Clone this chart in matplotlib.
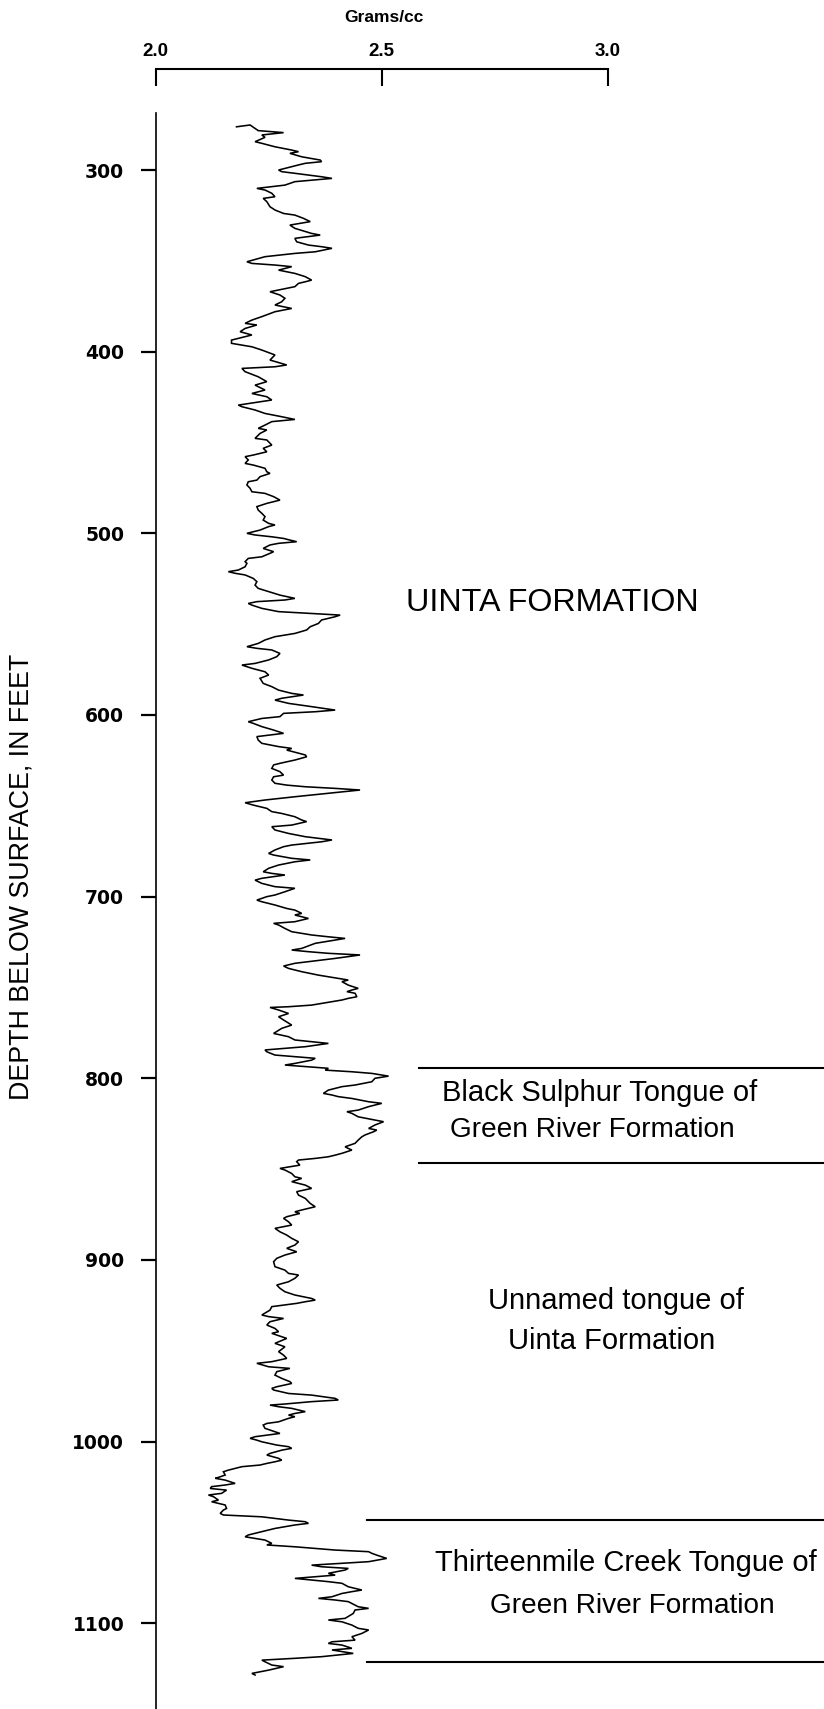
import matplotlib
matplotlib.use('Agg')
import matplotlib.pyplot as plt

plt.rcParams['font.family'] = ['Liberation Sans', 'DejaVu Sans']

# ---- density log (depth in feet, bulk density in g/cc) ----
depth_ft = [
    276.2, 275.2, 278.3, 279.4, 280.7, 282.0, 284.4, 285.3, 287.2, 289.0, 289.9, 290.8, 292.7, 294.5, 295.4,
    296.3, 297.2, 300.0, 300.9, 301.8, 303.7, 304.6, 306.4, 308.3, 310.1, 311.0, 312.8, 314.7, 315.6, 317.4,
    320.2, 322.0, 323.9, 324.8, 326.6, 328.4, 330.3, 332.1, 334.9, 335.8, 337.6, 339.5, 341.3, 342.2, 343.1,
    345.0, 345.9, 347.7, 350.5, 351.4, 352.3, 353.2, 355.1, 356.9, 358.7, 360.6, 361.5, 362.4, 364.2, 367.0,
    368.8, 370.6, 372.5, 374.3, 376.2, 378.0, 380.7, 382.6, 384.4, 385.3, 387.2, 389.0, 390.8, 393.6, 395.4,
    397.3, 399.1, 401.8, 404.6, 407.3, 408.3, 409.2, 411.0, 413.8, 416.5, 418.4, 421.1, 423.0, 424.8, 426.6,
    429.4, 430.3, 432.1, 434.0, 435.8, 437.3, 438.5, 440.4, 442.2,
    443.1, 445.0, 447.7, 448.6, 451.4, 453.2, 455.1, 456.9, 457.8, 459.6, 461.5, 462.4, 464.2, 466.1, 467.0,
    468.8, 470.7, 471.6, 473.4, 475.2, 477.1, 478.0, 479.8, 481.7, 483.5, 485.3, 487.2, 489.0, 490.8, 492.7,
    494.5, 495.4, 496.3, 498.2, 500.0, 500.9, 501.9, 502.8, 503.7, 504.6, 505.5, 506.4, 508.3, 510.1, 511.0,
    512.9, 513.8, 515.6, 516.5, 518.4, 520.2, 521.1, 522.0, 522.9, 524.8, 526.6, 528.5, 530.3, 532.1, 534.0,
    535.8, 536.7, 537.6, 538.6, 539.5, 541.3, 543.1, 544.1, 545.0, 545.9, 547.7, 549.6, 551.4, 553.2, 555.1,
    556.9, 558.7, 560.6, 562.4, 563.3, 564.2, 566.1, 567.9, 569.7, 571.6, 572.5, 574.3, 576.2, 578.0, 579.8,
    582.6, 584.4, 586.3, 588.1, 589.0, 590.8, 591.8, 593.6, 595.4, 597.3, 598.2, 599.1, 600.9, 601.9, 603.7,
    604.6, 606.4, 608.3, 610.1, 611.9, 613.8, 615.6, 617.4, 618.4,
    619.3, 622.0, 623.0, 624.8, 626.6, 627.5, 629.4, 631.2, 633.1, 634.0, 635.8, 637.6, 638.6, 639.5, 640.4,
    641.3, 643.1, 645.0, 646.8, 648.3, 649.6, 651.4, 653.2, 654.2, 656.0, 657.8, 658.7, 660.6, 661.5, 663.3,
    665.2, 667.0, 668.8, 669.8, 671.6, 672.5, 674.3, 676.2, 677.1, 678.9, 679.8, 680.8, 682.6, 684.4, 686.3,
    687.2, 688.1, 689.9, 690.9, 692.7, 694.5, 695.4, 697.3, 699.1, 700.0, 701.9, 702.8, 704.6, 706.5, 707.4,
    709.2, 710.1, 712.0, 713.8, 714.7, 715.6, 717.5, 719.3, 721.1, 722.1, 723.0, 723.9, 725.7, 728.5, 729.4,
    730.3, 731.2, 732.1, 734.0, 736.7, 738.2, 739.5, 741.3, 743.2, 745.0, 745.9, 746.8, 748.7, 750.5, 751.4,
    752.3, 753.2, 755.1, 756.0, 756.9, 758.8, 759.7, 760.6, 761.0, 762.4, 764.3, 766.1, 767.9, 770.7, 772.5,
    775.3, 777.1, 778.9, 780.8, 782.6, 784.4, 785.4, 787.2, 789.0, 790.0, 791.8, 792.7, 794.5,
    795.5, 796.4, 797.3, 798.8, 800.0, 801.9, 803.7, 804.6, 806.5, 808.3, 809.2, 810.1, 811.1, 812.9, 813.8,
    815.6, 817.5, 818.4, 819.3, 821.2, 823.0, 823.9, 825.7, 827.6, 828.5, 829.4, 831.2, 832.2, 834.0, 835.8,
    837.7, 838.6, 839.5, 841.3, 842.3, 843.2, 844.1, 845.0, 845.9, 847.8, 849.6, 850.5, 852.4, 854.2, 855.1,
    856.9, 858.8, 860.6, 862.4, 864.3, 866.1, 868.9, 870.7, 872.5, 873.5, 874.4, 876.2, 877.1, 879.0, 880.8,
    882.6, 884.5, 886.3, 888.1, 890.0, 891.8, 893.6, 895.5, 897.3, 899.1, 901.0, 903.7, 905.6, 907.4, 908.3,
    910.1, 912.0, 913.8, 915.6, 917.5, 919.3, 921.2, 922.1, 923.0, 923.9, 925.7, 927.6, 930.3, 931.2, 932.2,
    934.0, 935.8, 937.7, 939.5, 940.4, 943.2, 945.9, 947.8, 950.5, 952.4, 954.2, 956.0, 956.9, 958.8, 959.7,
    961.5, 963.4, 965.2, 967.0, 968.0, 969.8, 970.7,
    971.6, 973.5, 974.4, 976.2, 977.1, 978.0, 979.3, 979.9, 980.8, 981.7, 983.5, 984.5, 985.4, 986.3, 987.2,
    989.1, 990.0, 990.9, 992.7, 994.6, 995.5, 997.3, 998.2, 999.2, 1000.1, 1001.9, 1002.8, 1003.7, 1004.7, 1006.5,
    1007.4, 1009.2, 1010.2, 1011.1, 1012.0, 1012.9, 1013.8, 1015.7, 1016.6, 1018.4, 1019.7, 1020.2, 1021.2, 1023.0, 1023.9,
    1024.8, 1025.8, 1026.7, 1028.5, 1029.4, 1030.3, 1032.2, 1033.1, 1034.9, 1036.8, 1037.7, 1039.5, 1040.4, 1041.4, 1043.2,
    1044.1, 1045.0, 1045.9, 1047.8, 1049.6, 1051.4, 1052.4, 1053.3, 1054.2, 1056.0, 1056.9, 1057.9, 1059.7, 1060.6, 1061.5,
    1062.5, 1064.3, 1066.1, 1067.0, 1068.0, 1068.9, 1069.8, 1070.7, 1072.5, 1073.5, 1075.3, 1077.1, 1078.0, 1079.9, 1081.7,
    1082.6, 1083.6, 1085.4, 1086.3, 1087.2, 1088.1, 1090.9, 1091.8, 1092.7, 1094.6, 1097.3, 1098.2, 1099.2, 1101.0, 1102.8,
    1103.7, 1105.6, 1107.4, 1109.3, 1110.2, 1111.1, 1112.0, 1113.8, 1114.7, 1116.6, 1118.4, 1119.3, 1120.3, 1121.2, 1123.0,
    1123.9, 1125.8, 1127.6, 1128.5,
]
density_gcc = [
    2.179, 2.209, 2.227, 2.283, 2.235, 2.242, 2.220, 2.235, 2.264, 2.301, 2.316, 2.297, 2.323, 2.364, 2.367,
    2.331, 2.316, 2.272, 2.279, 2.308, 2.367, 2.390, 2.308, 2.286, 2.224, 2.242, 2.257, 2.264, 2.238, 2.246,
    2.253, 2.264, 2.283, 2.308, 2.327, 2.342, 2.297, 2.308, 2.345, 2.364, 2.308, 2.312, 2.338, 2.367, 2.390,
    2.353, 2.308, 2.242, 2.202, 2.213, 2.264, 2.301, 2.272, 2.308, 2.331, 2.345, 2.331, 2.316, 2.308, 2.253,
    2.275, 2.286, 2.279, 2.264, 2.301, 2.264, 2.235, 2.213, 2.198, 2.224, 2.198, 2.187, 2.213, 2.168, 2.168,
    2.213, 2.235, 2.264, 2.253, 2.290, 2.264, 2.191, 2.198, 2.227, 2.246, 2.220, 2.242, 2.213, 2.246, 2.257,
    2.183, 2.191, 2.220, 2.242, 2.279, 2.308, 2.257, 2.242, 2.227,
    2.246, 2.231, 2.220, 2.246, 2.257, 2.238, 2.246, 2.216, 2.198, 2.205, 2.198, 2.216, 2.242, 2.246, 2.253,
    2.231, 2.224, 2.205, 2.202, 2.209, 2.213, 2.242, 2.261, 2.275, 2.246, 2.224, 2.227, 2.235, 2.242, 2.238,
    2.250, 2.264, 2.250, 2.231, 2.202, 2.220, 2.257, 2.283, 2.297, 2.312, 2.272, 2.253, 2.238, 2.261, 2.253,
    2.235, 2.205, 2.198, 2.202, 2.198, 2.183, 2.161, 2.176, 2.198, 2.216, 2.224, 2.220, 2.227, 2.250, 2.275,
    2.308, 2.286, 2.224, 2.205, 2.213, 2.235, 2.272, 2.345, 2.408, 2.397, 2.367, 2.360, 2.342, 2.334, 2.308,
    2.264, 2.242, 2.227, 2.202, 2.224, 2.257, 2.275, 2.268, 2.250, 2.220, 2.191, 2.213, 2.242, 2.250, 2.231,
    2.238, 2.257, 2.272, 2.301, 2.327, 2.279, 2.264, 2.294, 2.345, 2.397, 2.353, 2.283, 2.275, 2.235, 2.205,
    2.216, 2.235, 2.261, 2.283, 2.224, 2.227, 2.235, 2.272, 2.301,
    2.290, 2.331, 2.334, 2.308, 2.275, 2.261, 2.257, 2.275, 2.283, 2.261, 2.257, 2.264, 2.290, 2.331, 2.397,
    2.452, 2.382, 2.308, 2.242, 2.198, 2.216, 2.246, 2.257, 2.279, 2.308, 2.323, 2.334, 2.301, 2.257, 2.264,
    2.294, 2.331, 2.390, 2.367, 2.301, 2.283, 2.264, 2.250, 2.261, 2.301, 2.342, 2.308, 2.272, 2.250, 2.238,
    2.257, 2.286, 2.235, 2.220, 2.235, 2.264, 2.308, 2.286, 2.264, 2.246, 2.224, 2.235, 2.264, 2.290, 2.308,
    2.323, 2.308, 2.338, 2.308, 2.261, 2.272, 2.286, 2.301, 2.345, 2.382, 2.419, 2.397, 2.353, 2.323, 2.301,
    2.338, 2.382, 2.452, 2.397, 2.308, 2.283, 2.294, 2.323, 2.360, 2.404, 2.426, 2.412, 2.426, 2.448, 2.434,
    2.423, 2.441, 2.445, 2.426, 2.412, 2.367, 2.345, 2.294, 2.253, 2.272, 2.294, 2.272, 2.283, 2.301, 2.279,
    2.261, 2.294, 2.308, 2.382, 2.331, 2.242, 2.246, 2.264, 2.353, 2.345, 2.308, 2.286, 2.382,
    2.375, 2.434, 2.478, 2.515, 2.485, 2.478, 2.441, 2.412, 2.382, 2.371, 2.390, 2.404, 2.434, 2.471, 2.500,
    2.471, 2.448, 2.423, 2.434, 2.448, 2.485, 2.504, 2.485, 2.471, 2.489, 2.482, 2.463, 2.456, 2.448, 2.441,
    2.419, 2.426, 2.434, 2.412, 2.397, 2.382, 2.353, 2.316, 2.312, 2.319, 2.275, 2.286, 2.301, 2.308, 2.323,
    2.301, 2.331, 2.345, 2.312, 2.316, 2.331, 2.342, 2.353, 2.323, 2.308, 2.319, 2.290, 2.283, 2.294, 2.301,
    2.264, 2.275, 2.290, 2.301, 2.316, 2.308, 2.290, 2.312, 2.286, 2.268, 2.261, 2.264, 2.286, 2.294, 2.316,
    2.308, 2.294, 2.268, 2.275, 2.286, 2.308, 2.345, 2.353, 2.331, 2.312, 2.257, 2.253, 2.235, 2.250, 2.283,
    2.253, 2.246, 2.264, 2.272, 2.257, 2.290, 2.264, 2.286, 2.272, 2.283, 2.290, 2.257, 2.224, 2.250, 2.297,
    2.268, 2.264, 2.279, 2.297, 2.301, 2.268, 2.257,
    2.261, 2.294, 2.345, 2.397, 2.404, 2.345, 2.286, 2.253, 2.272, 2.301, 2.331, 2.308, 2.294, 2.308, 2.294,
    2.272, 2.246, 2.238, 2.242, 2.264, 2.275, 2.220, 2.209, 2.224, 2.235, 2.268, 2.294, 2.301, 2.279, 2.253,
    2.246, 2.272, 2.279, 2.264, 2.246, 2.231, 2.191, 2.161, 2.150, 2.154, 2.139, 2.132, 2.154, 2.176, 2.154,
    2.124, 2.121, 2.157, 2.146, 2.117, 2.128, 2.139, 2.124, 2.154, 2.157, 2.150, 2.143, 2.150, 2.235, 2.294,
    2.331, 2.338, 2.308, 2.264, 2.235, 2.205, 2.198, 2.220, 2.242, 2.257, 2.246, 2.308, 2.397, 2.471, 2.478,
    2.489, 2.511, 2.471, 2.412, 2.345, 2.367, 2.426, 2.419, 2.382, 2.397, 2.308, 2.382, 2.412, 2.426, 2.456,
    2.434, 2.412, 2.390, 2.360, 2.397, 2.426, 2.448, 2.471, 2.441, 2.437, 2.419, 2.382, 2.412, 2.434, 2.448,
    2.471, 2.456, 2.434, 2.441, 2.390, 2.382, 2.412, 2.434, 2.390, 2.437, 2.367, 2.308, 2.235, 2.242, 2.257,
    2.283, 2.250, 2.213, 2.220,
]

# ---- formation boundaries and labels ----
boundary_depths = [794.6, 846.9, 1043.2, 1121.6]
boundary_start = [2.582, 2.582, 2.467, 2.467]

label_texts = ["UINTA FORMATION",
               "Black Sulphur Tongue of", "Green River Formation",
               "Unnamed tongue of", "Uinta Formation",
               "Thirteenmile Creek Tongue of", "Green River Formation"]
label_density = [2.876, 2.982, 2.965, 3.018, 3.007, 3.040, 3.053]
label_depth = [538.4, 808.1, 828.5, 922.6, 944.6, 1066.9, 1090.5]
label_sizes = [23.2, 21.0, 20.2, 21.0, 21.0, 21.0, 20.2]

depth_ticks = [300, 400, 500, 600, 700, 800, 900, 1000, 1100]
density_ticks = [2.0, 2.5, 3.0]
density_tick_labels = ["2.0", "2.5", "3.0"]

X_MIN, X_MAX = 2.0, 3.4773
Y_TOP, Y_BOT = 268.6, 1147.2

W, H = 824, 1709
fig = plt.figure(figsize=(W / 100, H / 100), dpi=100)

ax = fig.add_axes([155.5 / W, 0, 1 - 155.5 / W, 1 - 113 / H])
ax.plot(density_gcc, depth_ft, color='black', lw=1.15, solid_joinstyle='miter')
ax.set_xlim(X_MIN, X_MAX)
ax.set_ylim(Y_BOT, Y_TOP)
for s in ['top', 'right', 'bottom']:
    ax.spines[s].set_visible(False)
ax.spines['left'].set_linewidth(1.2)
ax.set_xticks([])
ax.set_yticks(depth_ticks)
ax.set_yticklabels([str(t) for t in depth_ticks], family='DejaVu Sans', fontweight='bold')
ax.tick_params(axis='y', direction='out', length=11, width=1.6, pad=11.5, labelsize=13.5)

for d, x0 in zip(boundary_depths, boundary_start):
    ax.axhline(d, xmin=(x0 - X_MIN) / (X_MAX - X_MIN), xmax=1.0, color='black', lw=1.5)

for t, x, y, fs in zip(label_texts, label_density, label_depth, label_sizes):
    ax.text(x, y, t, ha='center', va='center', fontsize=fs)

# top density scale
axt = fig.add_axes([155.5 / W, 1 - 86 / H, 1 - 155.5 / W, (86 - 68.7) / H])
axt.set_xlim(X_MIN, X_MAX)
axt.patch.set_visible(False)
for s in ['left', 'right', 'bottom']:
    axt.spines[s].set_visible(False)
axt.spines['top'].set_bounds(2.0, 3.0)
axt.spines['top'].set_linewidth(1.5)
axt.set_yticks([])
axt.xaxis.set_ticks_position('top')
axt.xaxis.set_label_position('top')
axt.set_xticks(density_ticks)
axt.set_xticklabels(density_tick_labels, fontweight='bold')
axt.tick_params(axis='x', direction='in', length=12.5, width=1.5, pad=6, labelsize=13.5)

fig.text(384 / W, 1 - 17 / H, "Grams/cc", ha='center', va='center', fontsize=12.5,
         fontweight='bold')
fig.text(22 / W, 1 - 877 / H, "DEPTH BELOW SURFACE, IN FEET", rotation=90,
         ha='center', va='center', fontsize=19.3)

fig.savefig('out.png', dpi=100)
